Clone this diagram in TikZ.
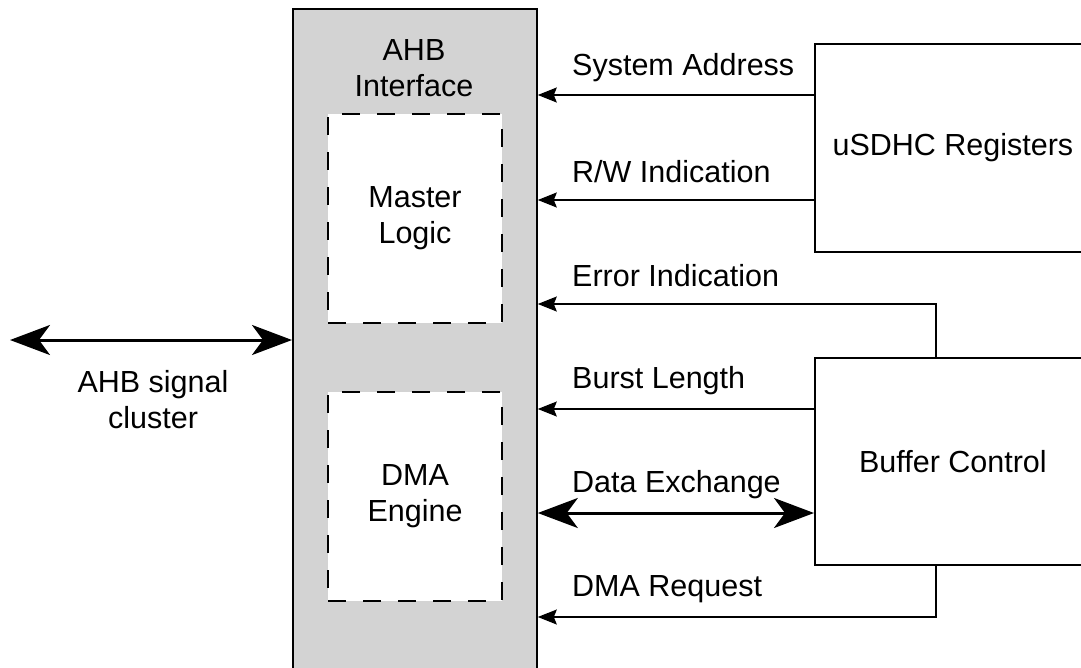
\documentclass[tikz,border=0pt]{standalone}
\usepackage{fontspec}
\setmainfont{Liberation Sans}
\usetikzlibrary{arrows.meta,calc}
\definecolor{blockgray}{HTML}{D3D3D3}
\begin{document}
\begin{tikzpicture}[x=1pt,y=-1pt,
  every node/.style={font=\fontsize{30.5}{36}\selectfont, inner sep=0pt},
  blk/.style={draw, line width=1.8pt, anchor=north west},
  dbox/.style={draw, fill=white, line width=2pt, dash pattern=on 18pt off 17pt, anchor=north west},
  lbl/.style={anchor=west},
  ctext/.style={align=center},
  sig/.style={line width=1.6pt, -{Stealth[length=19pt,width=15pt,inset=3pt]}},
  bus/.style={line width=3pt, {Stealth[length=40pt,width=30pt,inset=11pt]}-{Stealth[length=40pt,width=30pt,inset=11pt]}}
]
\useasboundingbox (0,0) rectangle (1081,667);
\begin{scope}
\clip (0,0) rectangle (1081,667);
% blocks
\node[blk, fill=blockgray, minimum width=244pt, minimum height=700pt] (ahb) at (292,8) {};
\node[ctext] (ahbt) at (414,68) {AHB\\Interface};
\node[dbox, minimum width=174pt, minimum height=209pt] (ml) at (327,113) {};
\node[ctext] (mlt) at (ml.center) {Master\\Logic};
\node[dbox, minimum width=174pt, minimum height=209pt] (dma) at (327,391) {};
\node[ctext] (dmat) at (dma.center) {DMA\\Engine};
\node[blk, minimum width=276pt, minimum height=208pt] (reg) at (814,43) {};
\node (regt) at (reg.center) {uSDHC Registers};
\node[blk, minimum width=276pt, minimum height=207pt] (buf) at (814,357) {};
\node (buft) at (buf.center) {Buffer Control};
% connectors
\coordinate (lend) at (10,340);
\draw[bus] (lend) -- (ahb.west |- lend);
\node[ctext] (cl) at (153,400) {AHB signal\\cluster};
\draw[sig] (reg.west |- 0,95) -- (ahb.east |- 0,95);
\node[lbl] (l1) at (572,68) {System Address};
\draw[sig] (reg.west |- 0,200) -- (ahb.east |- 0,200);
\node[lbl] (l2) at (572,172) {R/W Indication};
\draw[sig] ([xshift=122pt]buf.north west) |- (ahb.east |- 0,304);
\node[lbl] (l3) at (572,276) {Error Indication};
\draw[sig] (buf.west |- 0,409) -- (ahb.east |- 0,409);
\node[lbl] (l4) at (572,381) {Burst Length};
\draw[bus] (ahb.east |- 0,513) -- (buf.west |- 0,513);
\node[lbl] (l5) at (572,485) {Data Exchange};
\draw[sig] ([xshift=122pt]buf.south west) |- (ahb.east |- 0,617);
\node[lbl] (l6) at (572,589) {DMA Request};
\end{scope}
\end{tikzpicture}
\end{document}
